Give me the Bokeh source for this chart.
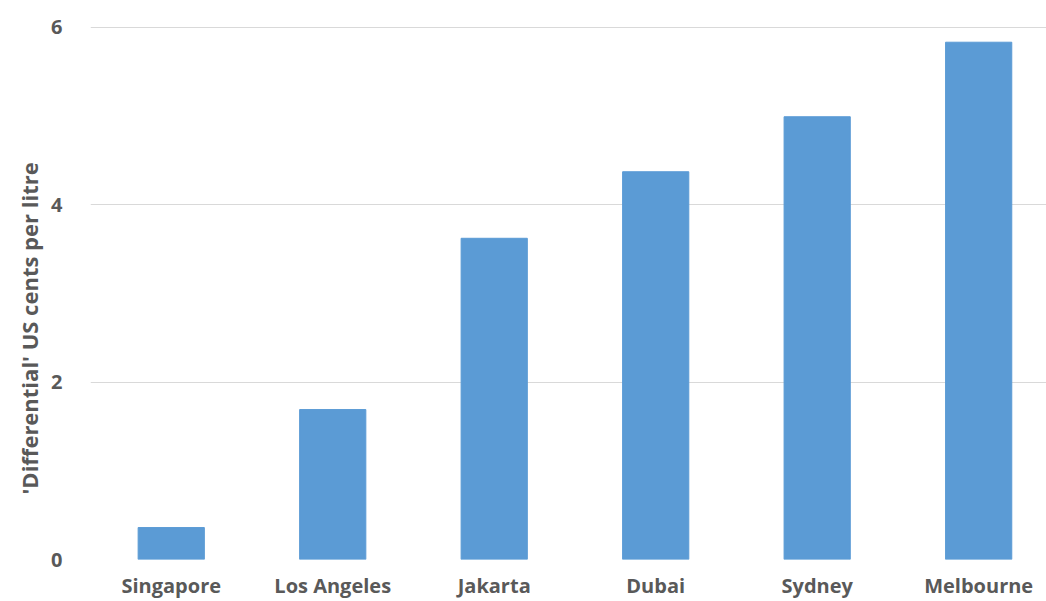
from bokeh.plotting import figure
from bokeh.models import Range1d, FixedTicker, Title
from bokeh.embed import file_html
from bokeh.resources import INLINE

cities = ["Singapore", "Los Angeles", "Jakarta", "Dubai", "Sydney", "Melbourne"]
values = [0.36, 1.69, 3.62, 4.37, 4.99, 5.83]
y_ticks = [0, 2, 4, 6]

xs = list(range(len(cities)))

p = figure(width=1046, height=601, output_backend="svg", toolbar_location=None,
           x_range=Range1d(-0.5, 5.42), y_range=Range1d(0, 6.3),
           min_border_left=90, min_border_right=0, min_border_top=0, min_border_bottom=0)
p.outline_line_color = None
p.background_fill_color = "white"
p.border_fill_color = "white"

p.vbar(x=xs, top=values, width=0.41, color="#5b9bd5", line_color="#5b9bd5")

p.xaxis.ticker = FixedTicker(ticks=xs)
p.xaxis.major_label_overrides = {i: c for i, c in enumerate(cities)}
p.yaxis.ticker = FixedTicker(ticks=y_ticks)
for ax in (p.xaxis[0], p.yaxis[0]):
    ax.axis_line_color = None
    ax.major_tick_line_color = None
    ax.minor_tick_line_color = None
    ax.major_label_text_font = "Open Sans"
    ax.major_label_text_font_style = "bold"
    ax.major_label_text_font_size = "20px"
    ax.major_label_text_color = "#595959"
p.xaxis.major_label_standoff = 6
p.yaxis.major_label_standoff = 22

p.xgrid.grid_line_color = None
p.ygrid.ticker = FixedTicker(ticks=y_ticks)
p.ygrid.grid_line_color = "#d9d9d9"
p.ygrid.grid_line_width = 1

t = Title(text="'Differential' US cents per litre", align="left", offset=65,
          vertical_align="top",
          text_font="Open Sans", text_font_style="bold", text_font_size="22px",
          text_color="#595959", standoff=6)
p.add_layout(t, "left")

open("out.html", "w").write(file_html(p, INLINE))
